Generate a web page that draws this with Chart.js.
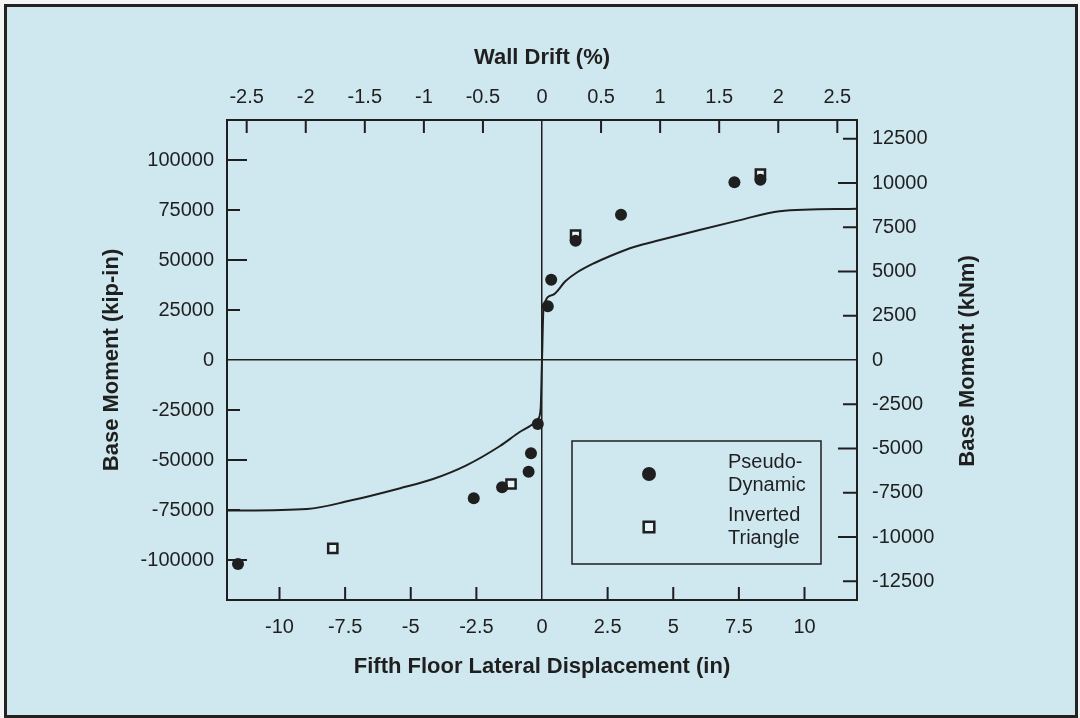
<!DOCTYPE html>
<html>
<head>
<meta charset="utf-8">
<title>Base Moment vs Lateral Displacement</title>
<script src="https://cdn.jsdelivr.net/npm/chart.js@4.4.0/dist/chart.umd.min.js"></script>
<style>
  html, body { margin: 0; padding: 0; background: #f3f5f5; }
  #frame {
    position: absolute; left: 4px; top: 4px; width: 1074px; height: 714px;
    box-sizing: border-box; border: 3px solid #222; background: #cfe7ef;
  }
  #chart { position: absolute; left: 0; top: 0; }
</style>
</head>
<body>
<div id="frame"></div>
<canvas id="chart" width="1080" height="718"></canvas>
<script>
'use strict';

// tick values for the four axes
const dispTicks = [-10, -7.5, -5, -2.5, 0, 2.5, 5, 7.5, 10];
const driftTicks = [-2.5, -2, -1.5, -1, -0.5, 0, 0.5, 1, 1.5, 2, 2.5];
const kipTicks = [-100000, -75000, -50000, -25000, 0, 25000, 50000, 75000, 100000];
const knmTicks = [-12500, -10000, -7500, -5000, -2500, 0, 2500, 5000, 7500, 10000, 12500];

// pseudo-dynamic test points (in, kip-in)
const pdDisp = [-11.58, -2.6, -1.52, -0.51, -0.42, -0.16, 0.22, 0.35, 1.28, 3.01, 7.33, 8.32];
const pdMoment = [-102000, -69150, -63650, -55850, -46650, -32000, 26850, 40150, 59650, 72650, 88850, 90150];

// inverted triangle load points (in, kip-in)
const itDisp = [-7.97, -1.18, 1.28, 8.32];
const itMoment = [-94150, -62000, 62500, 93000];

// analytical envelope (in, kip-in)
const curveDisp = [-12, -8.95, -7.3, -5.4, -4.15, -2.9, -1.6, -0.85, -0.4, -0.15, -0.05, 0,
                   0.06, 0.4, 0.9, 1.3, 2.0, 2.6, 3.5, 4.5, 6.0, 7.5, 9.05, 12];
const curveMoment = [-75300, -74500, -70300, -64100, -59500, -52800, -43000, -36000, -32500, -29500, -24000, 0,
                     26500, 32500, 39500, 43500, 48500, 52000, 56500, 60000, 65000, 69800, 74400, 75600];

const legendLines = [['Pseudo-', 'Dynamic'], ['Inverted', 'Triangle']];

// axis ranges: 450 in storey height for drift, 1 kip-in = 0.112985 kNm
const dispRange = 12;
const driftRange = dispRange / 4.5;
const kipRange = 120000;
const knmRange = kipRange * 0.112985;

const ink = '#1f1f1f';
const fontFamily = '"Liberation Sans", Arial, Helvetica, sans-serif';
const tickFont = { family: fontFamily, size: 20 };
const titleFont = { family: fontFamily, size: 22, weight: 'bold' };

function toPoints(xs, ys) {
  return xs.map(function(x, i) { return { x: x, y: ys[i] }; });
}

function fixedTicks(values) {
  return function(scale) {
    scale.ticks = values.map(function(v) { return { value: v }; });
  };
}

function zeroLine(ctx) {
  return ctx.tick && ctx.tick.value === 0 ? ink : 'rgba(0,0,0,0)';
}

function tickLength(id, value) {
  if (id === 'y') return value % 50000 === 0 ? 20 : 13;
  if (id === 'y2') return value % 5000 === 0 ? 19 : 14;
  return 13;
}

// tick marks pointing into the plot area
const inwardTicks = {
  id: 'inwardTicks',
  afterDatasetsDraw: function(chart) {
    const ctx = chart.ctx;
    const area = chart.chartArea;
    ctx.save();
    ctx.strokeStyle = ink;
    ctx.lineWidth = 2;
    ctx.beginPath();
    Object.values(chart.scales).forEach(function(scale) {
      const pos = scale.options.position;
      scale.ticks.forEach(function(t) {
        if (t.value === 0) return;
        const p = scale.getPixelForValue(t.value);
        const len = tickLength(scale.id, t.value);
        if (pos === 'bottom') { ctx.moveTo(p, area.bottom); ctx.lineTo(p, area.bottom - len); }
        if (pos === 'top') { ctx.moveTo(p, area.top); ctx.lineTo(p, area.top + len); }
        if (pos === 'left') { ctx.moveTo(area.left, p); ctx.lineTo(area.left + len, p); }
        if (pos === 'right') { ctx.moveTo(area.right, p); ctx.lineTo(area.right - len, p); }
      });
    });
    ctx.stroke();
    ctx.restore();
  }
};

// boxed legend in the lower right corner, two lines per entry
const boxLegend = {
  id: 'boxLegend',
  afterDatasetsDraw: function(chart) {
    const ctx = chart.ctx;
    const area = chart.chartArea;
    const w = 249, h = 123;
    const left = area.right - 36 - w;
    const top = area.bottom - 36 - h;
    ctx.save();
    ctx.strokeStyle = ink;
    ctx.lineWidth = 1.5;
    ctx.strokeRect(left, top, w, h);

    const rows = [33, 86];
    const textRows = [[21, 44.5], [74.5, 97]];
    const markerSize = [7, 7.5];
    [0, 1].forEach(function(i) {
      const ds = chart.data.datasets[i];
      ctx.fillStyle = ds.backgroundColor;
      ctx.strokeStyle = ds.borderColor;
      ctx.lineWidth = ds.pointBorderWidth;
      Chart.helpers.drawPoint(ctx, {
        pointStyle: ds.pointStyle,
        radius: markerSize[i],
        rotation: 0,
        borderWidth: ds.pointBorderWidth
      }, left + 77, top + rows[i]);
      ctx.fillStyle = ink;
      ctx.font = '20px ' + fontFamily;
      ctx.textAlign = 'left';
      ctx.textBaseline = 'middle';
      legendLines[i].forEach(function(line, j) {
        ctx.fillText(line, left + 156, top + textRows[i][j]);
      });
    });
    ctx.restore();
  }
};

// right axis title reads bottom to top like the left one
const rightTitle = {
  id: 'rightTitle',
  afterDraw: function(chart) {
    const ctx = chart.ctx;
    const area = chart.chartArea;
    ctx.save();
    ctx.translate(area.right + 111, (area.top + area.bottom) / 2 + 1);
    ctx.rotate(-Math.PI / 2);
    ctx.fillStyle = ink;
    ctx.font = 'bold 22px ' + fontFamily;
    ctx.textAlign = 'center';
    ctx.textBaseline = 'middle';
    ctx.fillText('Base Moment (kNm)', 0, 0);
    ctx.restore();
  }
};

new Chart(document.getElementById('chart'), {
  type: 'scatter',
  data: {
    datasets: [
      {
        label: 'Pseudo-Dynamic',
        data: toPoints(pdDisp, pdMoment),
        pointStyle: 'circle',
        pointRadius: 6,
        backgroundColor: ink,
        borderColor: ink,
        pointBorderWidth: 0,
        xAxisID: 'x', yAxisID: 'y',
        order: 1
      },
      {
        label: 'Inverted Triangle',
        data: toPoints(itDisp, itMoment),
        pointStyle: 'rect',
        pointRadius: 6.5,
        backgroundColor: '#e6f3f7',
        borderColor: ink,
        pointBorderWidth: 2.5,
        xAxisID: 'x', yAxisID: 'y',
        order: 2
      },
      {
        type: 'line',
        label: 'Envelope',
        data: toPoints(curveDisp, curveMoment),
        showLine: true,
        pointRadius: 0,
        borderColor: ink,
        borderWidth: 2,
        fill: false,
        cubicInterpolationMode: 'monotone',
        xAxisID: 'x', yAxisID: 'y',
        order: 3
      }
    ]
  },
  options: {
    responsive: false,
    animation: false,
    events: [],
    devicePixelRatio: 1,
    layout: { padding: { left: 98, right: 0, top: 30, bottom: 30 } },
    plugins: {
      legend: { display: false },
      tooltip: { enabled: false }
    },
    scales: {
      x: {
        type: 'linear', position: 'bottom',
        min: -dispRange, max: dispRange,
        afterBuildTicks: fixedTicks(dispTicks),
        afterFit: function(s) { s.height = 88; },
        grid: { drawTicks: false, color: zeroLine, lineWidth: 1.5 },
        border: { color: ink, width: 2 },
        ticks: { padding: 15, color: ink, font: tickFont, autoSkip: false, maxRotation: 0,
                 callback: function(v) { return String(v); } },
        title: { display: true, text: 'Fifth Floor Lateral Displacement (in)', color: ink,
                 font: titleFont, padding: { top: 0, bottom: 8 } }
      },
      x2: {
        type: 'linear', position: 'top',
        min: -driftRange, max: driftRange,
        afterBuildTicks: fixedTicks(driftTicks),
        afterFit: function(s) { s.height = 90; },
        grid: { display: false, drawTicks: false },
        border: { color: ink, width: 2 },
        ticks: { padding: 11, color: ink, font: tickFont, autoSkip: false, maxRotation: 0,
                 callback: function(v) { return String(v); } },
        title: { display: true, text: 'Wall Drift (%)', color: ink,
                 font: titleFont, padding: { top: 15, bottom: 0 } }
      },
      y: {
        type: 'linear', position: 'left',
        min: -kipRange, max: kipRange,
        afterBuildTicks: fixedTicks(kipTicks),
        afterFit: function(s) { s.width = 129; },
        grid: { drawTicks: false, color: zeroLine, lineWidth: 1.5 },
        border: { color: ink, width: 2 },
        ticks: { padding: 13, color: ink, font: tickFont, autoSkip: false,
                 callback: function(v) { return String(v); } },
        title: { display: true, text: 'Base Moment (kip-in)', color: ink,
                 font: titleFont, padding: { top: 1, bottom: 0 } }
      },
      y2: {
        type: 'linear', position: 'right',
        min: -knmRange, max: knmRange,
        afterBuildTicks: fixedTicks(knmTicks),
        afterFit: function(s) { s.width = 223; },
        grid: { display: false, drawTicks: false },
        border: { color: ink, width: 2 },
        ticks: { padding: 15, color: ink, font: tickFont, autoSkip: false,
                 callback: function(v) { return String(v); } }
      }
    }
  },
  plugins: [inwardTicks, boxLegend, rightTitle]
});
</script>
</body>
</html>
